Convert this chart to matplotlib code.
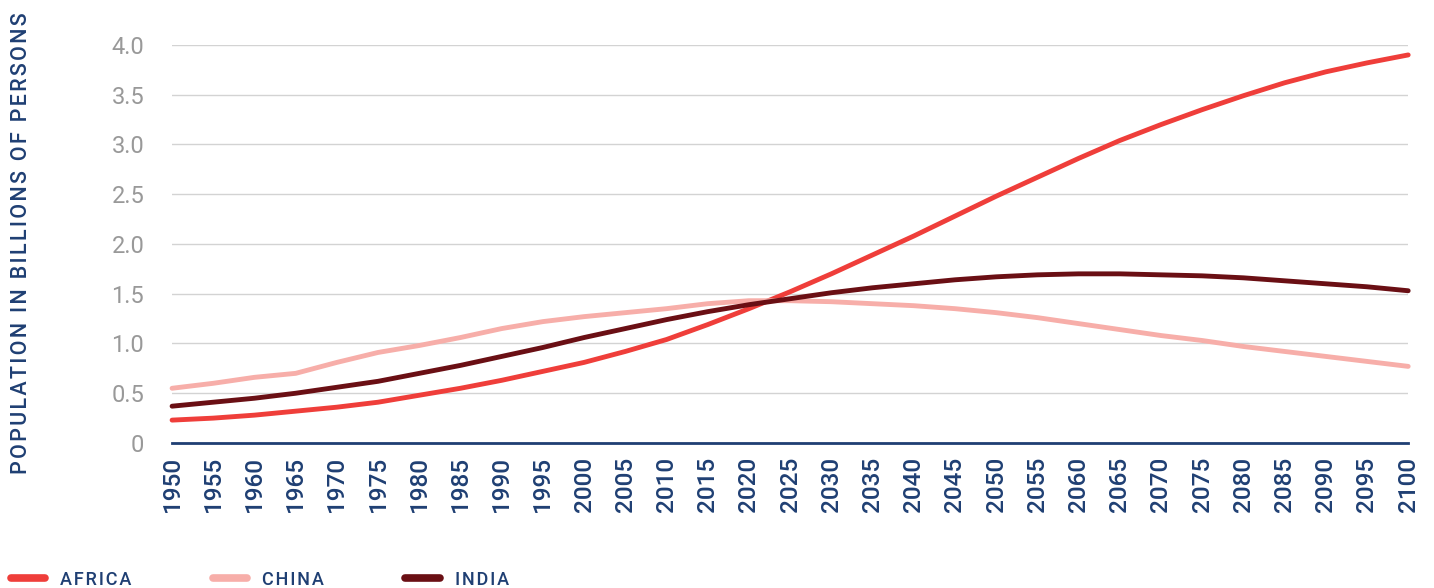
import matplotlib
matplotlib.use("Agg")
from matplotlib import pyplot as plt
from matplotlib.ticker import MultipleLocator, FuncFormatter

plt.rcParams["font.family"] = ["Roboto", "DejaVu Sans"]

years = list(range(1950, 2101, 5))
africa = [0.23, 0.25, 0.28, 0.32, 0.36, 0.41, 0.48, 0.55, 0.63, 0.72, 0.81,
          0.92, 1.04, 1.19, 1.35, 1.52, 1.70, 1.89, 2.08, 2.28, 2.48, 2.67,
          2.86, 3.04, 3.20, 3.35, 3.49, 3.62, 3.73, 3.82, 3.90]
china = [0.55, 0.60, 0.66, 0.70, 0.81, 0.91, 0.98, 1.06, 1.15, 1.22, 1.27,
         1.31, 1.35, 1.40, 1.43, 1.43, 1.42, 1.40, 1.38, 1.35, 1.31, 1.26,
         1.20, 1.14, 1.08, 1.03, 0.97, 0.92, 0.87, 0.82, 0.77]
india = [0.37, 0.41, 0.45, 0.50, 0.56, 0.62, 0.70, 0.78, 0.87, 0.96, 1.06,
         1.15, 1.24, 1.32, 1.39, 1.45, 1.51, 1.56, 1.60, 1.64, 1.67, 1.69,
         1.70, 1.70, 1.69, 1.68, 1.66, 1.63, 1.60, 1.57, 1.53]
series = [("AFRICA", africa, "#ef3e3a"),
          ("CHINA", china, "#f7aea9"),
          ("INDIA", india, "#6a0f14")]
ylabel = "POPULATION IN BILLIONS OF PERSONS"

navy = "#1f3f73"


def spaced(s):
    # poor man's letter spacing
    return "\u200a".join(s)


fig = plt.figure(figsize=(14.34, 5.88), dpi=100)
ax = fig.add_axes([0.12, 0.2466, 0.862, 0.6769])

for name, vals, color in series:
    ax.plot(years, vals, color=color, lw=3.5, solid_capstyle="round",
            label=spaced(name), clip_on=False, zorder=3)

ax.set_xlim(1950, 2100)
ax.set_ylim(0, 4.0)
ax.xaxis.set_major_locator(MultipleLocator(5))
ax.yaxis.set_major_locator(MultipleLocator(0.5))
ax.yaxis.set_major_formatter(FuncFormatter(lambda v, p: "0" if v == 0 else f"{v:.1f}"))
ax.grid(axis="y", color="#d3d3d3", lw=1)
ax.set_axisbelow(True)
for s in ["top", "right", "left"]:
    ax.spines[s].set_visible(False)
ax.spines["bottom"].set_color(navy)
ax.spines["bottom"].set_linewidth(2)
ax.spines["bottom"].set_zorder(4)
ax.tick_params(axis="y", length=0, pad=20, labelsize=17, labelcolor="#999999")
ax.tick_params(axis="x", length=0, pad=10, labelsize=17.5, labelcolor=navy,
               labelrotation=90)
for lbl in ax.get_xticklabels():
    lbl.set_fontweight("medium")

fig.text(0.015, 0.587, spaced(ylabel), rotation=90,
         ha="center", va="center", color=navy, fontsize=15.5,
         fontweight="medium")

leg = fig.legend(loc="center left", bbox_to_anchor=(0.0077, 0.014), ncol=3,
                 frameon=False, fontsize=13, handlelength=1.9,
                 handletextpad=0.83, columnspacing=4.5, borderpad=0,
                 borderaxespad=0, labelcolor=navy)
for h in leg.legend_handles:
    h.set_linewidth(5.5)
for t in leg.get_texts():
    t.set_fontweight("medium")

fig.savefig("out.png", dpi=100)
